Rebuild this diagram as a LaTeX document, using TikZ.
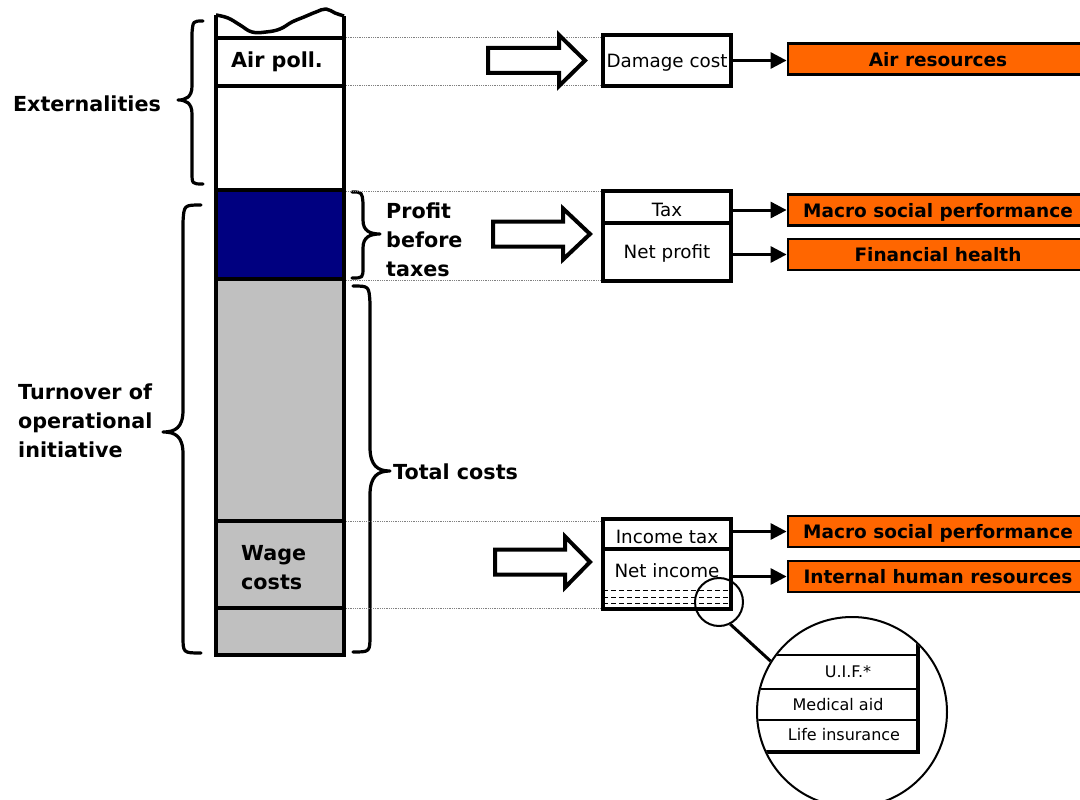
\documentclass[tikz,border=0pt]{standalone}
\usepackage{fontspec}
\setmainfont{DejaVu Sans}
\usetikzlibrary{arrows.meta}
\definecolor{orng}{HTML}{FF6600}
\definecolor{navyblue}{HTML}{000080}
\definecolor{barg}{HTML}{C0C0C0}
\newcommand\lblfont{\fontsize{20.7}{29}\selectfont\bfseries}
\newcommand\valfont{\fontsize{18.3}{22}\selectfont}
\newcommand\orfont{\fontsize{18.5}{22}\selectfont\bfseries}
\newcommand\smfont{\fontsize{16}{19}\selectfont}
\begin{document}
\begin{tikzpicture}[x=1pt,y=-1pt,
  thickline/.style={line width=3.5pt},
  guide/.style={densely dotted, line width=0.8pt, gray},
  brace/.style={line width=3.2pt, line cap=round, line join=round},
  hollow/.style={draw, line width=4pt, fill=white, line join=miter},
  valbox/.style={draw, line width=3.5pt, minimum width=128pt, inner sep=0pt, text depth=0pt, font=\valfont},
  orbox/.style={draw, line width=2.8pt, fill=orng, minimum width=300pt, minimum height=31pt, inner sep=0pt, text depth=0pt, font=\orfont},
  link/.style={line width=3pt, -{Triangle[length=16pt,width=16pt]}},
  lbl/.style={font=\lblfont, inner sep=0pt, align=left},
  small/.style={font=\smfont, inner sep=0pt},
]
\useasboundingbox (0,0) rectangle (1080,800);

% ---- bar ----
\fill[navyblue] (216,190) rectangle (344,279);
\fill[barg] (216,279) rectangle (344,655);
\draw[thickline, line join=round] plot[smooth, tension=0.7] coordinates {(216,15) (228,18) (240,25) (252,32) (266,32) (280,29) (292,22) (304,17) (316,12) (326,9) (335,13) (344,16)};
\draw[thickline] (216,15) -- (216,655) -- (344,655) -- (344,16);
\foreach \yy in {38,86,190,279,521,608} \draw[thickline] (216,\yy) -- (344,\yy);

\node[lbl] (airpoll) at (277,62) {Air poll.};
\node[lbl, anchor=west] (wage) at (241,567.5) {Wage\\costs};

% ---- braces ----
\draw[brace] (203,21) .. controls (193,21) .. (192,33) -- (192,86) .. controls (192,97) and (186,100) .. (178,100) .. controls (186,100) and (192,103) .. (192,114) -- (192,172) .. controls (192,184) .. (203,184);
\draw[brace] (201,205) .. controls (184,205) .. (183,222) -- (183,410) .. controls (183,428) and (175,432) .. (163,432) .. controls (175,432) and (183,436) .. (183,454) -- (183,636) .. controls (183,653) .. (201,653);
\draw[brace] (352,192) .. controls (362,192) .. (363,203) -- (363,220) .. controls (363,231) and (370,234) .. (380,234) .. controls (370,234) and (363,237) .. (363,248) -- (363,267) .. controls (363,278) .. (352,278);
\draw[brace] (353,286) .. controls (369,286) .. (370,303) -- (370,447) .. controls (370,466) and (378,471) .. (390,471) .. controls (378,471) and (370,476) .. (370,495) -- (370,635) .. controls (370,652) .. (353,652);

\node[lbl] (ext) at (87,104) {Externalities};
\node[lbl, anchor=west] (turn) at (18,421) {Turnover of\\operational\\initiative};
\node[lbl, anchor=west] (pbt) at (386,239.5) {Profit\\before\\taxes};
\node[lbl, anchor=west] (tc) at (393,472) {Total costs};

% ---- value boxes ----
\node[valbox, minimum height=51pt] (dmg) at (667,60.5) {Damage cost};
\node[valbox, minimum height=32pt, text height=19pt] (tax) at (667,207) {Tax};
\node[valbox, minimum height=58pt] (np) at (667,252) {Net profit};
\node[valbox, minimum height=30pt, text height=19pt] (itx) at (667,534) {Income tax};
\node[valbox, minimum height=60pt] (ni) at (667,579) {};
\node[font=\valfont, inner sep=0pt, text depth=0pt] (nit) at (667,571) {Net income};
\foreach \s in {20,13,7}
  \draw[line width=1pt, dash pattern=on 5pt off 3pt] ([yshift=\s pt,xshift=2pt]ni.south west) -- ([yshift=\s pt,xshift=-2pt]ni.south east);

% ---- guides ----
\coordinate (g1) at (346,37);
\coordinate (g2) at (346,85);
\coordinate (g3) at (346,191);
\coordinate (g4) at (346,280);
\coordinate (g5) at (346,521);
\coordinate (g6) at (346,608);
\draw[guide] (g1) -- (g1 -| dmg.west);
\draw[guide] (g2) -- (g2 -| dmg.west);
\draw[guide] (g3) -- (g3 -| tax.west);
\draw[guide] (g4) -- (g4 -| np.west);
\draw[guide] (g5) -- (g5 -| itx.west);
\draw[guide] (g6) -- (g6 -| ni.west);

% ---- hollow arrows ----
\draw[hollow] (488,48) -- (559,48) -- (559,35) -- (585,60.5) -- (559,86) -- (559,73) -- (488,73) -- cycle;
\draw[hollow] (493,221.5) -- (563,221.5) -- (563,208.5) -- (590,234) -- (563,259.5) -- (563,246.5) -- (493,246.5) -- cycle;
\draw[hollow] (495,549.5) -- (565,549.5) -- (565,536.5) -- (590,562) -- (565,587.5) -- (565,574.5) -- (495,574.5) -- cycle;

% ---- orange boxes ----
\node[orbox] (air) at (938,59) {Air resources};
\node[orbox] (mac1) at (938,210) {Macro social performance};
\node[orbox] (fin) at (938,254.5) {Financial health};
\node[orbox] (mac2) at (938,531.5) {Macro social performance};
\node[orbox] (ihr) at (938,576.5) {Internal human resources};

\draw[link] (dmg.east) -- (dmg.east -| air.west);
\draw[link] (tax.east |- mac1) -- (mac1.west);
\draw[link] (np.east |- fin) -- (fin.west);
\draw[link] (itx.east |- mac2) -- (mac2.west);
\draw[link] (ni.east |- ihr) -- (ihr.west);

% ---- magnifier ----
\node[circle, draw, line width=2pt, minimum size=48pt, inner sep=0pt] (sc) at (719,602) {};
\node[circle, draw, line width=2pt, minimum size=190pt, inner sep=0pt] (bc) at (852,712) {};
\draw[line width=3pt] (sc.-63) -- (bc.148);
\begin{scope}
  \clip (852,712) circle (94pt);
  \draw[line width=2pt] (740,655) -- (918,655);
  \draw[line width=2pt] (740,689) -- (918,689);
  \draw[line width=2pt] (740,720) -- (918,720);
  \draw[line width=3.5pt] (918,620) -- (918,752) -- (740,752);
\end{scope}
\node[small] (uif) at (848,672) {U.I.F.*};
\node[small] (med) at (838,705) {Medical aid};
\node[small] (life) at (844,735) {Life insurance};
\end{tikzpicture}
\end{document}
